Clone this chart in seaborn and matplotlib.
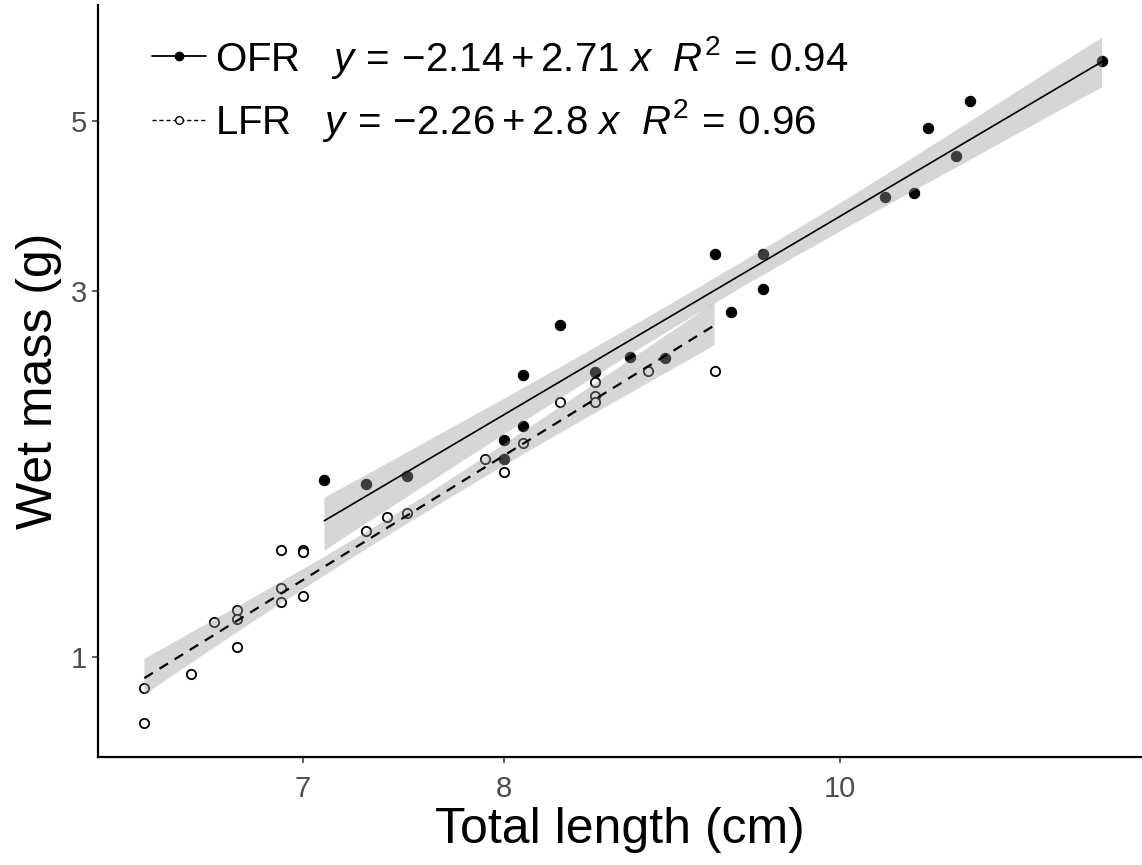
import numpy as np
import pandas as pd
import matplotlib
matplotlib.use("Agg")
import matplotlib.pyplot as plt
from matplotlib.lines import Line2D
from matplotlib.collections import PolyCollection
import seaborn as sns

# ---- data ----
ofr_length = [7.1, 7.3, 7.5, 8.0, 8.0, 8.1, 8.1, 8.3, 8.5, 8.7, 8.9, 9.2, 9.3,
              9.5, 9.5, 10.3, 10.5, 10.6, 10.8, 10.9, 11.9]
ofr_mass = [1.70, 1.68, 1.72, 1.92, 1.81, 2.00, 2.33, 2.71, 2.35, 2.46, 2.45,
            3.35, 2.82, 3.35, 3.02, 3.98, 4.03, 4.89, 4.50, 5.30, 5.98]

lfr_length = [6.3, 6.3, 6.5, 6.6, 6.7, 6.7, 6.7, 6.9, 6.9, 6.9, 7.0, 7.0, 7.0,
              7.3, 7.4, 7.5, 7.9, 8.0, 8.1, 8.3, 8.5, 8.5, 8.5, 8.8, 9.2]
lfr_mass = [0.82, 0.91, 0.95, 1.11, 1.15, 1.12, 1.03, 1.38, 1.23, 1.18, 1.38,
            1.37, 1.20, 1.46, 1.52, 1.54, 1.81, 1.74, 1.90, 2.15, 2.28, 2.19,
            2.15, 2.36, 2.36]

groups = ["OFR", "LFR"]
legend_labels = [r"OFR   $y\,=\,{-2.14} + 2.71\ x$  $R^2\,=\,0.94$",
                 r"LFR   $y\,=\,{-2.26} + 2.8\ x$  $R^2\,=\,0.96$"]
x_ticks = [7, 8, 10]
y_ticks = [1, 3, 5]
x_label = "Total length (cm)"
y_label = "Wet mass (g)"

df = pd.DataFrame({
    "length": ofr_length + lfr_length,
    "mass": ofr_mass + lfr_mass,
    "group": ["OFR"] * len(ofr_length) + ["LFR"] * len(lfr_length),
})
df["log_length"] = np.log10(df["length"])
df["log_mass"] = np.log10(df["mass"])

# ---- style ----
sns.set_style("ticks")
plt.rcParams["font.family"] = ["Liberation Sans", "DejaVu Sans"]
plt.rcParams["mathtext.fontset"] = "custom"
plt.rcParams["mathtext.rm"] = "Liberation Sans"
plt.rcParams["mathtext.it"] = "Liberation Sans:italic"
plt.rcParams["mathtext.bf"] = "Liberation Sans:bold"
plt.rcParams["text.color"] = "black"
plt.rcParams["axes.labelcolor"] = "black"

W, H = 1142, 865
fig = plt.figure(figsize=(W / 100, H / 100), dpi=100)
ax = fig.add_axes([98 / W, 1 - 757 / H, (W - 98) / W, (757 - 5) / H])

# points first
sns.scatterplot(data=df[df.group == "OFR"], x="log_length", y="log_mass",
                ax=ax, marker="o", s=55, color="black", edgecolor="black",
                linewidth=0.8, legend=False, zorder=1)
sns.scatterplot(data=df[df.group == "LFR"], x="log_length", y="log_mass",
                ax=ax, marker="o", s=45, facecolor="white", edgecolor="black",
                linewidth=1.3, legend=False, zorder=1)

# regression lines + 95% CI ribbons
styles = {"OFR": dict(ls="-", lw=1.2), "LFR": dict(ls=(0, (4.5, 3.5)), lw=1.6)}
for g in groups:
    n_before = len(ax.collections)
    sns.regplot(data=df[df.group == g], x="log_length", y="log_mass", ax=ax,
                scatter=False, ci=95, n_boot=4000, seed=11, truncate=True,
                color="black", line_kws=dict(linestyle=styles[g]["ls"],
                                             linewidth=styles[g]["lw"]))
    for c in ax.collections[n_before:]:
        if isinstance(c, PolyCollection):
            c.set_facecolor("#999999")
            c.set_alpha(0.4)
            c.set_edgecolor("none")

# axes scales (log10 space)
ax.set_xlim(np.log10(6.109), np.log10(12.22))
ax.set_ylim(np.log10(0.7406), np.log10(7.08))
ax.set_xticks(np.log10(x_ticks))
ax.set_xticklabels([str(t) for t in x_ticks])
ax.set_yticks(np.log10(y_ticks))
ax.set_yticklabels([str(t) for t in y_ticks])
ax.tick_params(axis="both", labelsize=21, labelcolor="#4D4D4D", color="#333333",
               length=4, width=1.1)
ax.tick_params(axis="x", pad=9)
ax.tick_params(axis="y", pad=4)
ax.set_xlabel(x_label, fontsize=36, labelpad=3)
ax.set_ylabel(y_label, fontsize=36, labelpad=6)

for s in ["top", "right"]:
    ax.spines[s].set_visible(False)
for s in ["left", "bottom"]:
    ax.spines[s].set_color("black")
    ax.spines[s].set_linewidth(1.6)
ax.grid(False)

handles = [
    Line2D([0], [0], color="black", lw=1.3, ls="-", marker="o", markersize=6,
           markerfacecolor="black", markeredgecolor="black"),
    Line2D([0], [0], color="black", lw=1.0, ls=(0, (3, 2)), marker="o",
           markersize=5.5, markerfacecolor="white", markeredgecolor="black",
           markeredgewidth=1.0),
]
leg = ax.legend(handles, legend_labels, loc="upper left",
                bbox_to_anchor=(0.0517, 0.962), frameon=False, fontsize=29,
                handlelength=1.35, handletextpad=0.22, labelspacing=0.4,
                borderpad=0, borderaxespad=0)

fig.savefig("out.png", dpi=100)
